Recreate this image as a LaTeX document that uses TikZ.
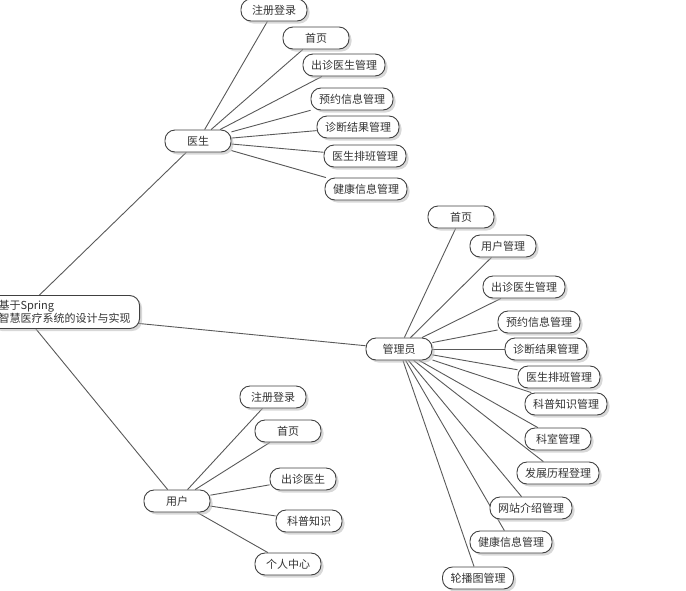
\documentclass[tikz,border=0pt]{standalone}
\usepackage{fontspec}
\setmainfont{Noto Sans CJK SC}
\usetikzlibrary{shadows,backgrounds}

\begin{document}
\begin{tikzpicture}[x=1pt, y=-1pt, font=\fontsize{11}{12}\selectfont,
	topic/.style={draw=black!75, line width=0.9pt, fill=white, rounded corners=10pt,
		minimum width=66pt, minimum height=22pt, inner xsep=8pt, inner ysep=0pt, text=black!80,
		drop shadow={shadow xshift=2.5pt, shadow yshift=-2.5pt, fill=black!30, opacity=0.5}},
	link/.style={draw=black!65, line width=0.9pt}]
	\useasboundingbox (0,0) rectangle (686,590);
	\clip (0,0) rectangle (686,590);

	% 中心主题
	\coordinate (hub) at (22,312);
	\node[topic, align=left, minimum width=150pt, minimum height=33pt, anchor=east] (root) at (140,312) {基于Spring\\智慧医疗系统的设计与实现};

	% 医生
	\node[topic] (doc) at (198,141) {医生};
	\node[topic] (doc1) at (274,10) {注册登录};
	\node[topic] (doc2) at (316,38) {首页};
	\node[topic] (doc3) at (344,65) {出诊医生管理};
	\node[topic] (doc4) at (352,99) {预约信息管理};
	\node[topic] (doc5) at (358,127) {诊断结果管理};
	\node[topic] (doc6) at (365,156) {医生排班管理};
	\node[topic] (doc7) at (366,189) {健康信息管理};

	% 管理员
	\node[topic] (admin) at (399,349) {管理员};
	\node[topic] (admin1) at (461,217) {首页};
	\node[topic] (admin2) at (503,246) {用户管理};
	\node[topic] (admin3) at (524,287) {出诊医生管理};
	\node[topic] (admin4) at (539,322) {预约信息管理};
	\node[topic] (admin5) at (546,349) {诊断结果管理};
	\node[topic] (admin6) at (559,377) {医生排班管理};
	\node[topic] (admin7) at (566,404) {科普知识管理};
	\node[topic] (admin8) at (558,439) {科室管理};
	\node[topic] (admin9) at (558,473) {发展历程登理};
	\node[topic] (admin10) at (531,508) {网站介绍管理};
	\node[topic] (admin11) at (511,542) {健康信息管理};
	\node[topic] (admin12) at (478,578) {轮播图管理};

	% 用户
	\node[topic] (user) at (177,501) {用户};
	\node[topic] (user1) at (273,397) {注册登录};
	\node[topic] (user2) at (288,431) {首页};
	\node[topic] (user3) at (303,479) {出诊医生};
	\node[topic] (user4) at (309,521) {科普知识};
	\node[topic] (user5) at (288,564) {个人中心};

	% 连线 (放在背景层)
	\begin{scope}[on background layer]
		\draw[link] (hub) -- (doc);
		\draw[link] (hub) -- (admin);
		\draw[link] (hub) -- (user);

		\draw[link] (doc) -- (doc1);
		\draw[link] (doc) -- (doc2);
		\draw[link] (doc) -- (doc3);
		\draw[link] (doc) -- (doc4);
		\draw[link] (doc) -- (doc5);
		\draw[link] (doc) -- (doc6);
		\draw[link] (doc) -- (doc7);

		\draw[link] (admin) -- (admin1);
		\draw[link] (admin) -- (admin2);
		\draw[link] (admin) -- (admin3);
		\draw[link] (admin) -- (admin4);
		\draw[link] (admin) -- (admin5);
		\draw[link] (admin) -- (admin6);
		\draw[link] (admin) -- (admin7);
		\draw[link] (admin) -- (admin8);
		\draw[link] (admin) -- (admin9);
		\draw[link] (admin) -- (admin10);
		\draw[link] (admin) -- (admin11);
		\draw[link] (admin) -- (admin12);

		\draw[link] (user) -- (user1);
		\draw[link] (user) -- (user2);
		\draw[link] (user) -- (user3);
		\draw[link] (user) -- (user4);
		\draw[link] (user) -- (user5);
	\end{scope}
\end{tikzpicture}
\end{document}
